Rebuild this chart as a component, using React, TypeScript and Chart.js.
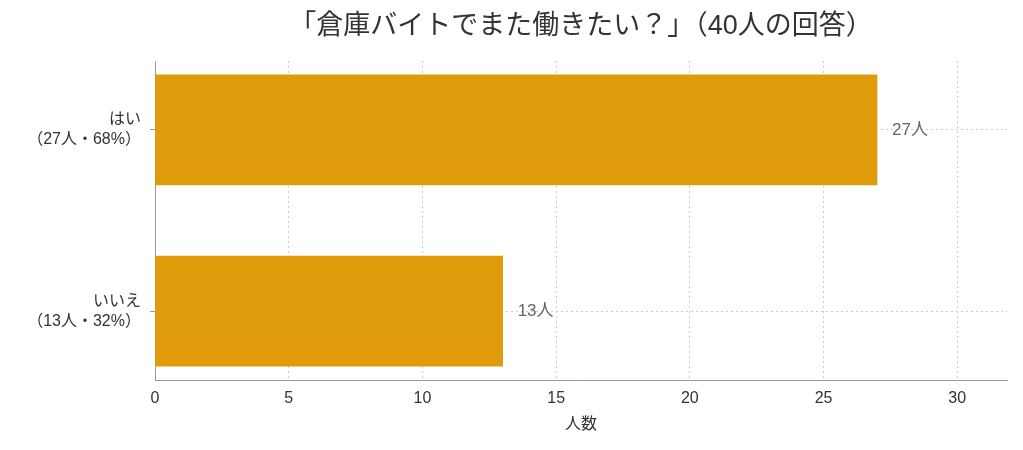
import { useEffect, useRef } from 'react';
import { Chart, registerables } from 'chart.js';

Chart.register(...registerables);

const categories = ['はい', 'いいえ'];
const counts = [27, 13];
const percents = [68, 32];
const xTicks = [0, 5, 10, 15, 20, 25, 30];
const titleText = '「倉庫バイトでまた働きたい？」（40人の回答）';
const xTitle = '人数';

const FONT = '"Liberation Sans", "Noto Sans CJK JP", sans-serif';
const barColor = '#E09B0B';

const yLabels = categories.map((c, i) => [c, `（${counts[i]}人・${percents[i]}%）`]);

// title centred over the plot area, not the whole canvas
const titlePlugin = {
  id: 'plotTitle',
  afterDraw(chart: any) {
    const { ctx, chartArea } = chart;
    ctx.save();
    ctx.font = `27px ${FONT}`;
    ctx.fillStyle = '#333';
    ctx.textAlign = 'center';
    ctx.textBaseline = 'middle';
    ctx.fillText(titleText, (chartArea.left + chartArea.right) / 2, 27);
    ctx.restore();
  },
};

const valueLabels = {
  id: 'valueLabels',
  afterDatasetsDraw(chart: any) {
    const { ctx } = chart;
    const meta = chart.getDatasetMeta(0);
    ctx.save();
    ctx.font = `17px ${FONT}`;
    ctx.fillStyle = '#666';
    ctx.textAlign = 'left';
    ctx.textBaseline = 'middle';
    meta.data.forEach((bar: any, i: number) => {
      ctx.fillText(`${counts[i]}人`, bar.x + 15, bar.y);
    });
    ctx.restore();
  },
};

export default function App() {
  const chartRef = useRef<HTMLCanvasElement>(null);

  useEffect(() => {
    document.body.style.margin = '0';
    if (!chartRef.current) return;
    const ctx = chartRef.current.getContext('2d');
    if (!ctx) return;

    const chart = new Chart(ctx, {
      type: 'bar',
      data: {
        datasets: [
          {
            label: '人数',
            data: counts.map((v, i) => ({ x: v, y: i })),
            backgroundColor: barColor,
            barThickness: 110,
          },
        ],
      },
      options: {
        indexAxis: 'y',
        animation: false,
        responsive: true,
        maintainAspectRatio: false,
        layout: { padding: { top: 61, right: 16, left: 0, bottom: 0 } },
        plugins: {
          legend: { display: false },
          tooltip: { enabled: false },
        },
        scales: {
          x: {
            type: 'linear',
            min: 0,
            max: 31.86,
            ticks: {
              padding: 9,
              color: '#333',
              font: { family: FONT, size: 16 },
            },
            afterBuildTicks: (s: any) => {
              s.ticks = xTicks.map((v) => ({ value: v }));
            },
            afterFit: (s: any) => {
              s.height = 70;
            },
            grid: { color: '#ccc', drawTicks: false },
            border: { color: '#999', dash: [2, 3] },
            title: {
              display: true,
              text: xTitle,
              color: '#333',
              font: { family: FONT, size: 16 },
              padding: { top: 0, bottom: 16 },
            },
          },
          y: {
            type: 'linear',
            reverse: true,
            offset: false,
            min: -0.38,
            max: 1.38,
            afterBuildTicks: (s: any) => {
              s.ticks = categories.map((_, i) => ({ value: i }));
            },
            afterFit: (s: any) => {
              s.width = 155;
            },
            ticks: {
              callback: (v: any) => yLabels[v],
              color: '#333',
              padding: 9,
              font: { family: FONT, size: 16, lineHeight: 1.25 },
            },
            grid: { offset: false, color: '#ccc', tickColor: '#999', tickLength: 5 },
            border: { color: '#999', dash: [2, 3] },
          },
        },
      },
      plugins: [titlePlugin, valueLabels],
    });

    return () => chart.destroy();
  }, []);

  return (
    <div style={{ width: 1023, height: 450, position: 'relative' }}>
      <canvas ref={chartRef} />
    </div>
  );
}
